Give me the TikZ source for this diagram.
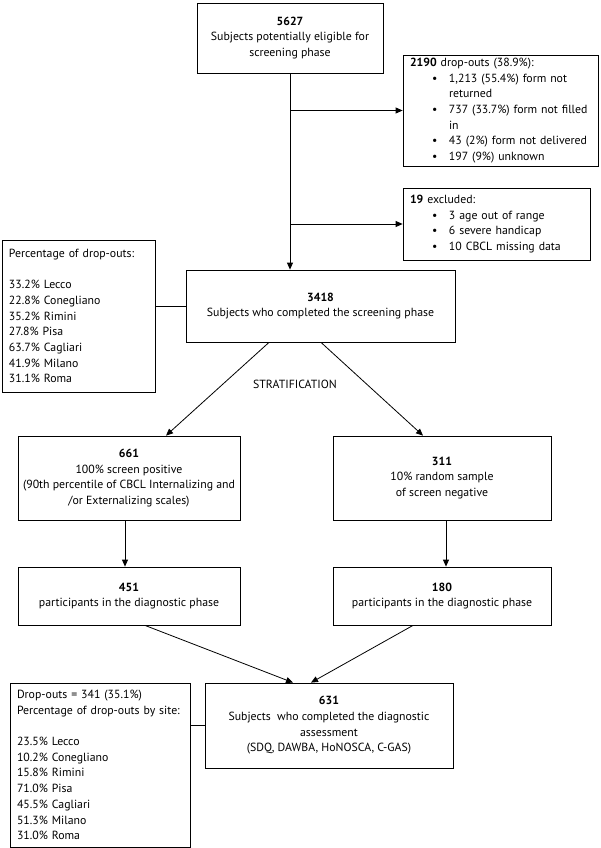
\documentclass[tikz,border=0pt]{standalone}
\usepackage{fontspec}
\setmainfont{PT Sans}
\usetikzlibrary{arrows.meta,calc}
\begin{document}
\begin{tikzpicture}[x=1pt,y=-1pt,
  box/.style={draw, line width=0.8pt, rectangle, inner xsep=8pt, inner ysep=2pt, font=\fontsize{11.8}{15.7}\selectfont, align=center},
  lbox/.style={box, align=left},
  arr/.style={line width=0.8pt, -{Triangle[length=7pt,width=6pt]}},
  ln/.style={line width=0.8pt}]
\useasboundingbox (0,0) rectangle (600,848);
\newcommand{\bl}{\hspace*{22pt}\makebox[17pt][l]{\textbullet}}
\newcommand{\bi}{\hspace*{39pt}}
% nodes
\node[box, minimum width=186pt, minimum height=70pt] (b5627) at (290,38)
  {\textbf{5627}\\Subjects potentially eligible for\\screening phase};
\node[lbox, text width=181pt, inner xsep=7pt, minimum width=195pt, minimum height=111pt] (b2190) at (500.5,110.5)
  {\textbf{2190} drop-outs (38.9\%):\\
   \bl 1,213 (55.4\%) form not\\ \bi returned\\
   \bl 737 (33.7\%) form not filled\\ \bi in\\
   \bl 43 (2\%) form not delivered\\
   \bl 197 (9\%) unknown};
\node[lbox, text width=173pt, inner xsep=7pt, minimum width=187pt, minimum height=72pt] (b19) at (496.5,224)
  {\textbf{19} excluded:\\
   \bl 3 age out of range\\
   \bl 6 severe handicap\\
   \bl 10 CBCL missing data};
\node[lbox, text width=139pt, inner xsep=7pt, minimum width=153pt, minimum height=152pt] (bleft) at (78.5,316)
  {Percentage of drop-outs:\\[15.7pt]
   33.2\% Lecco\\22.8\% Conegliano\\35.2\% Rimini\\27.8\% Pisa\\63.7\% Cagliari\\41.9\% Milano\\31.1\% Roma};
\node[box, minimum width=269pt, minimum height=72pt] (b3418) at (320.5,306)
  {\textbf{3418}\\Subjects who completed the screening phase};
\node[font=\fontsize{11.8}{14}\selectfont] (strat) at (295,384) {STRATIFICATION};
\node[box, inner xsep=1pt, minimum width=222pt, minimum height=84pt] (b661) at (129,478)
  {\textbf{661}\\100\% screen positive\\(90th percentile of CBCL Internalizing and\\/or Externalizing scales)};
\node[box, minimum width=218pt, minimum height=84pt] (b311) at (442,478)
  {\textbf{311}\\10\% random sample\\of screen negative};
\node[box, minimum width=222pt, minimum height=58pt] (b451) at (129,596)
  {\textbf{451}\\participants in the diagnostic phase};
\node[box, minimum width=218pt, minimum height=58pt] (b180) at (442,596)
  {\textbf{180}\\participants in the diagnostic phase};
\node[box, minimum width=248pt, minimum height=85pt] (b631) at (329,725.5)
  {\textbf{631}\\Subjects\ \ who completed the diagnostic\\assessment\\(SDQ, DAWBA, HoNOSCA, C-GAS)};
\node[lbox, text width=166pt, inner xsep=7pt, minimum width=180pt, minimum height=164pt] (bdrop) at (100,765)
  {Drop-outs = 341 (35.1\%)\\Percentage of drop-outs by site:\\[15.7pt]
   23.5\% Lecco\\10.2\% Conegliano\\15.8\% Rimini\\71.0\% Pisa\\45.5\% Cagliari\\51.3\% Milano\\31.0\% Roma};
% connectors
\coordinate (j1) at (b5627.south |- b2190.west);
\coordinate (j2) at (b5627.south |- b19.west);
\draw[arr] (b5627.south) -- (b5627.south |- b3418.north);
\draw[arr] (j1) -- (b2190.west);
\draw[arr] (j2) -- (b19.west);
\draw[ln] (bleft.east |- b3418.west) -- (b3418.west);
\draw[arr] ([xshift=-51.5pt]b3418.south) -- ([xshift=37pt]b661.north);
\draw[arr] ([xshift=0.5pt]b3418.south) -- ([xshift=-19pt]b311.north);
\draw[arr] ([xshift=-4pt]b661.south) -- ([xshift=-4pt]b451.north);
\draw[arr] ([xshift=4pt]b311.south) -- ([xshift=4pt]b180.north);
\draw[arr] ([xshift=16pt]b451.south) -- ([xshift=-36pt]b631.north);
\draw[arr] ([xshift=-29pt]b180.south) -- ([xshift=-18pt]b631.north);
\draw[ln] (bdrop.east |- b631.west) -- (b631.west);
\end{tikzpicture}
\end{document}
